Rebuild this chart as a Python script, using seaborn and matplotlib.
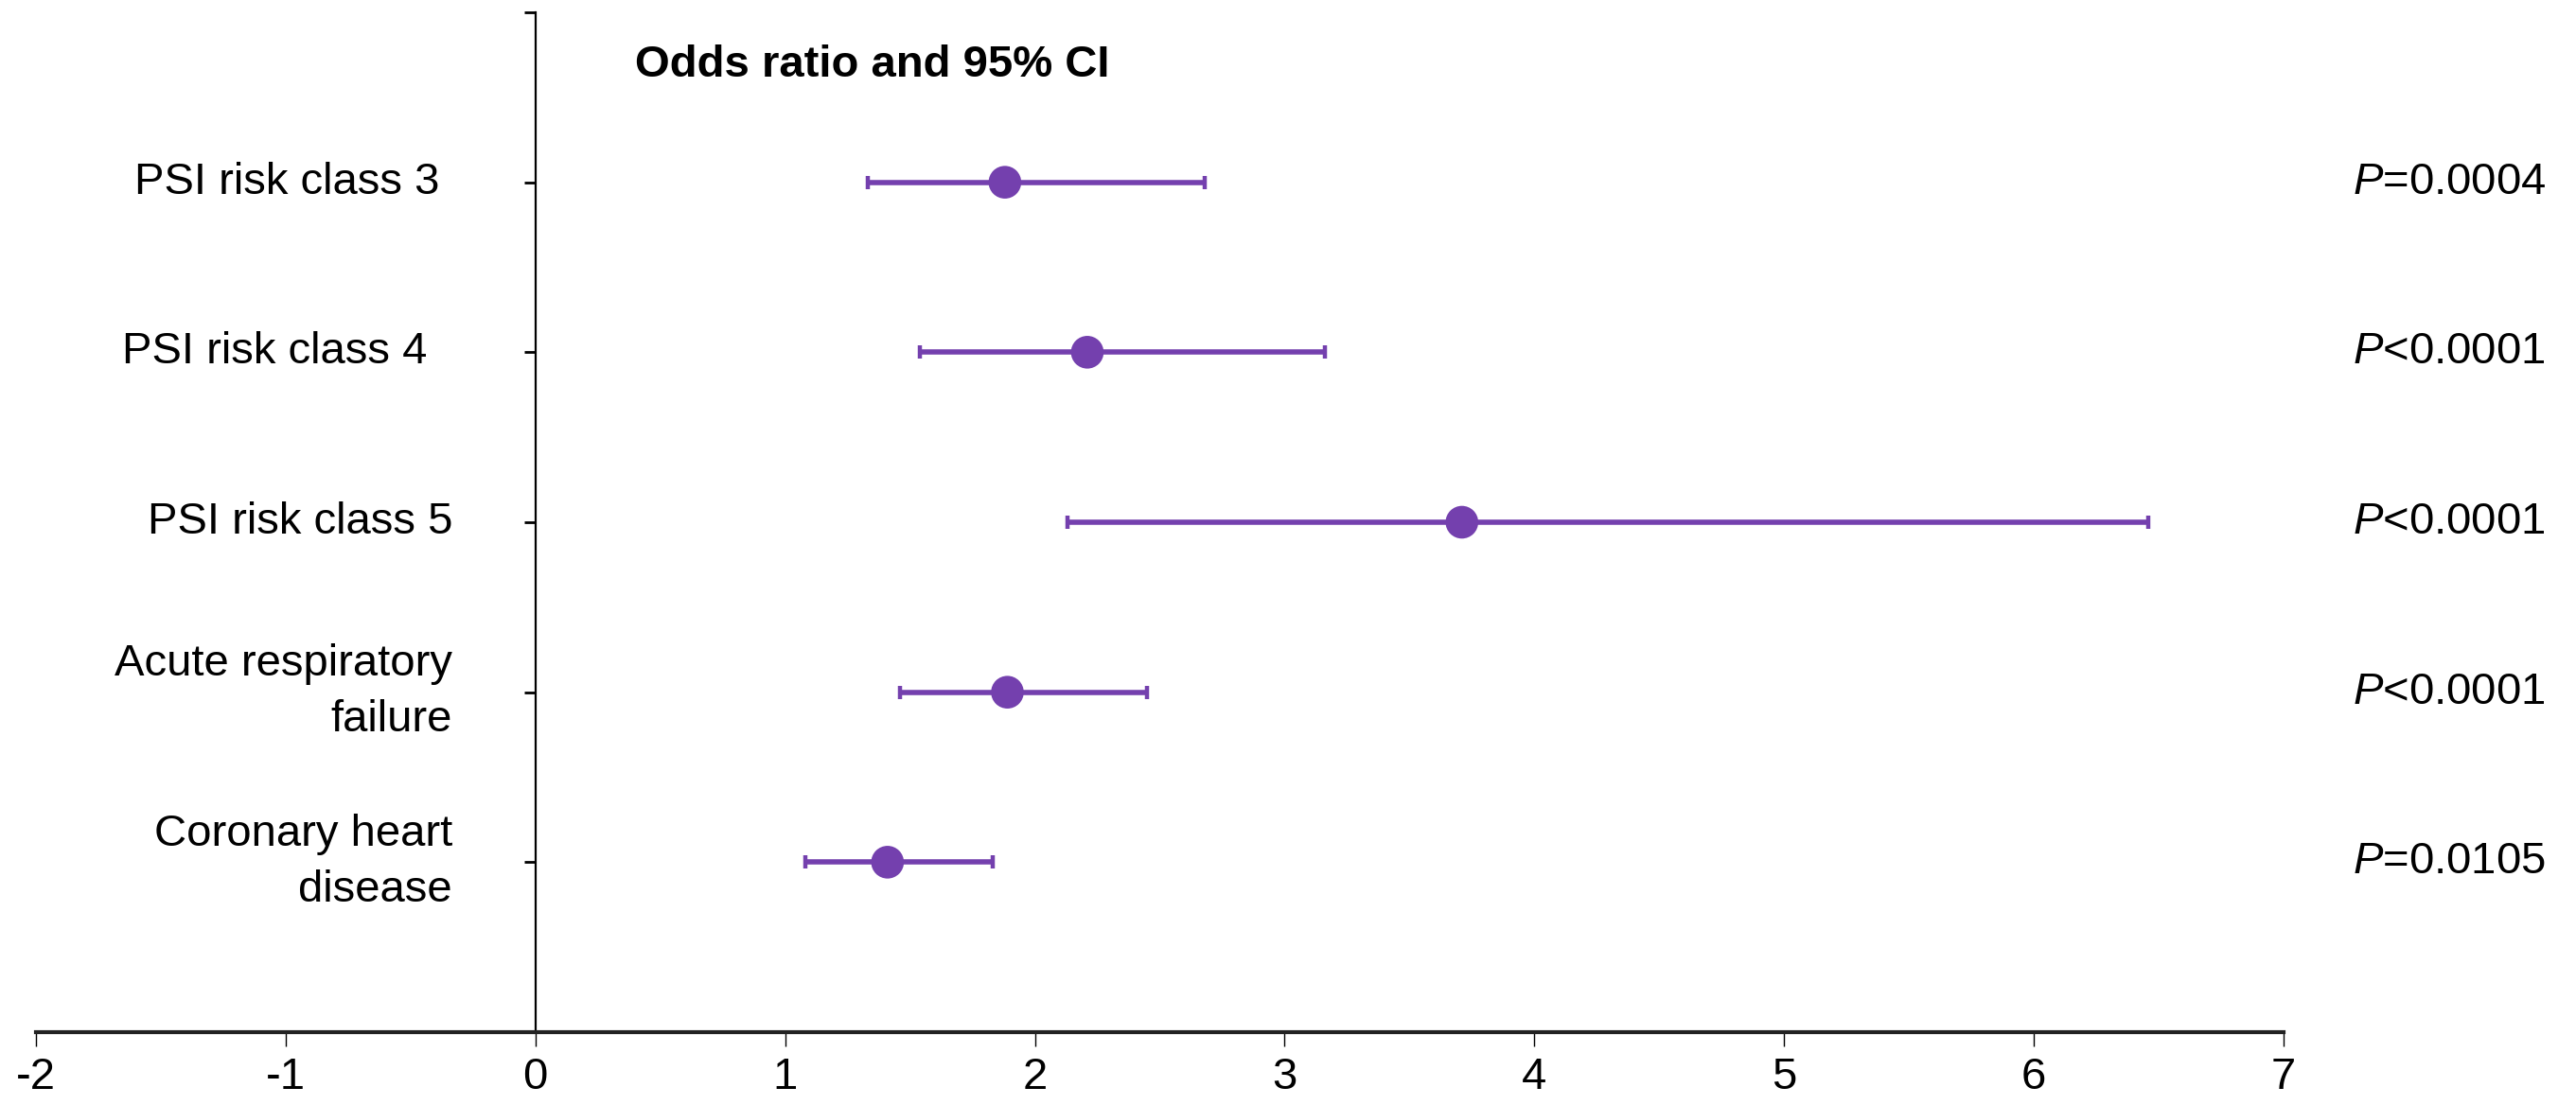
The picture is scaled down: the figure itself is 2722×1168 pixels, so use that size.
import matplotlib
matplotlib.use("Agg")
import matplotlib.pyplot as plt
import seaborn as sns
import pandas as pd

# Forest-plot data: odds ratios with 95% confidence intervals
categories = ["PSI risk class 3 ", "PSI risk class 4  ", "PSI risk class 5",
              "Acute respiratory\nfailure", "Coronary heart\ndisease"]
odds_ratio = [1.88, 2.21, 3.71, 1.89, 1.41]
ci_low = [1.33, 1.54, 2.13, 1.46, 1.08]
ci_high = [2.68, 3.16, 6.46, 2.45, 1.83]
p_values = ["=0.0004", "<0.0001", "<0.0001", "<0.0001", "=0.0105"]
x_ticks = [-2, -1, 0, 1, 2, 3, 4, 5, 6, 7]

sns.set_theme(style="white")
plt.rcParams["font.family"] = ["Liberation Sans", "DejaVu Sans"]
plt.rcParams["mathtext.fontset"] = "custom"
plt.rcParams["mathtext.it"] = "Liberation Sans:italic"
plt.rcParams["mathtext.rm"] = "Liberation Sans"
plt.rcParams["text.color"] = "black"
plt.rcParams["xtick.color"] = "black"
plt.rcParams["ytick.color"] = "black"
plt.rcParams["xtick.labelcolor"] = "black"
plt.rcParams["ytick.labelcolor"] = "black"

purple = "#7440ae"
fs = 17

# rows from top (5) to bottom (1)
ypos = [5, 4, 3, 2, 1]
df = pd.DataFrame({"label": categories, "or": odds_ratio, "lo": ci_low,
                   "hi": ci_high, "y": ypos})

fig = plt.figure(figsize=(13.61, 5.84), dpi=200)
ax = fig.add_axes([0.01396, 0.0659, 0.8725, 0.923])

ax.errorbar(df["or"], df["y"],
            xerr=[df["or"] - df["lo"], df["hi"] - df["or"]],
            fmt="none", ecolor=purple, elinewidth=2.0, capsize=2.4,
            capthick=1.6, zorder=2)
sns.scatterplot(data=df, x="or", y="y", color=purple, s=155,
                edgecolor="none", ax=ax, zorder=3, legend=False)

ax.set_xlim(-2, 7)
ax.set_ylim(0, 6)
ax.set_xticks(x_ticks)
ax.set_xticklabels([str(t) for t in x_ticks])
ax.set_yticks(ypos + [6])
ax.set_yticklabels([""] * (len(ypos) + 1))
ax.set_xlabel("")
ax.set_ylabel("")

# category labels, right-aligned just left of the y-axis ticks
for y, lab in zip(df["y"], df["label"]):
    ax.text(0.1853, y, lab, transform=ax.get_yaxis_transform(),
            fontsize=fs, ha="right", va="center", multialignment="right",
            linespacing=1.45, color="black")

ax.spines["top"].set_visible(False)
ax.spines["right"].set_visible(False)
ax.spines["left"].set_position(("data", 0))
ax.spines["left"].set_color("black")
ax.spines["left"].set_linewidth(0.8)
ax.spines["bottom"].set_color("#222222")
ax.spines["bottom"].set_linewidth(1.5)

ax.tick_params(axis="x", direction="out", length=5.5, width=0.5,
               labelsize=fs, pad=4, bottom=True)
ax.tick_params(axis="y", direction="out", length=4.3, width=1.0,
               labelsize=fs, left=True)

ax.text(0.40, 5.69, "Odds ratio and 95% CI", fontsize=fs,
        fontweight="bold", ha="left", va="center", color="black")

for y, p in zip(ypos, p_values):
    ax.text(7.275, y, r"$\mathit{P}$" + p, fontsize=fs, ha="left",
            va="center", clip_on=False, color="black")

fig.savefig("out.png", dpi=200, facecolor="white")
